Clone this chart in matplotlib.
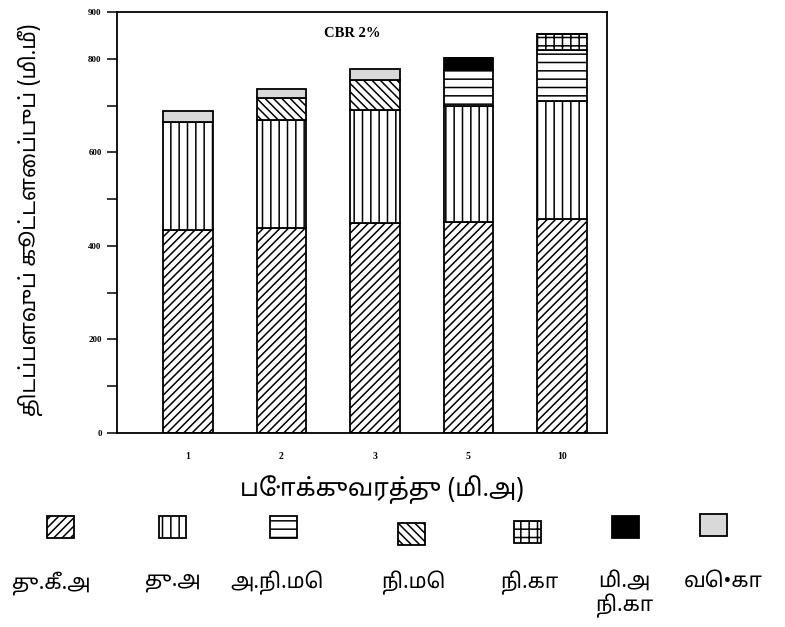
import matplotlib
matplotlib.use("Agg")
import matplotlib.pyplot as plt
import numpy as np
from matplotlib.patches import Rectangle

# Traffic levels (million standard axles) and layer thicknesses (mm)
traffic = ["1", "2", "3", "5", "10"]

layer_names = ["து.கீ.அ", "து.அ", "அ.நி.மெ", "நி.மெ", "நி.கா", "மி.அ\nநி.கா", "வெ•கா"]
subbase      = [434, 439, 449, 450, 457]   # து.கீ.அ
base         = [231, 231, 242, 249, 252]   # து.அ
dbm          = [0, 0, 0, 76, 110]          # அ.நி.மெ
bm           = [0, 46, 64, 0, 0]           # நி.மெ
bc           = [0, 0, 0, 0, 34]            # நி.கா
sdbc         = [0, 0, 0, 26, 0]            # மி.அ நி.கா
premix       = [24, 20, 23, 0, 0]          # வெ•கா

layers = [subbase, base, dbm, bm, bc, sdbc, premix]
hatches = ["////", "||", "--", "\\\\\\\\", "++", None, None]
faces = ["white", "white", "white", "white", "white", "black", "#d9d9d9"]

yticks = [0, 200, 400, 600, 800, 900]

tamil = ["Noto Sans Tamil", "Lohit Tamil", "Noto Sans", "DejaVu Sans"]

plt.rcParams["hatch.linewidth"] = 1.1
plt.rcParams["hatch.color"] = "black"

fig = plt.figure(figsize=(7.85, 6.27), dpi=100)
ax = fig.add_axes([0.149, 0.3094, 0.624, 0.6715])

x = np.arange(len(traffic))
bottom = np.zeros(len(traffic))
for vals, h, fc in zip(layers, hatches, faces):
    v = np.array(vals, dtype=float)
    ax.bar(x, v, width=0.53, bottom=bottom, color=fc, edgecolor="black",
           hatch=h, linewidth=1.3)
    bottom += v

ax.set_xlim(-0.76, 4.48)
ax.set_ylim(0, 900)
ax.set_xticks(x)
ax.set_xticklabels(traffic, fontfamily="Liberation Serif", fontweight="bold",
                   fontsize=7)
ax.tick_params(axis="x", length=0, pad=14)
ax.set_yticks(np.arange(0, 901, 100))
ax.set_yticklabels([str(t) if t in yticks else "" for t in range(0, 901, 100)],
                   fontfamily="Liberation Serif", fontweight="bold", fontsize=6.5)
ax.tick_params(axis="y", length=7, width=1.1, pad=4, direction="out")
for s in ax.spines.values():
    s.set_linewidth(1.3)

ax.text(0.48, 0.95, "CBR 2%", transform=ax.transAxes, ha="center", va="center",
        fontfamily="Liberation Serif", fontweight="bold", fontsize=10.5)

fig.text(382 / 785, 1 - 490 / 627, "போக்குவரத்து (மி.அ)", ha="center", va="center",
         fontsize=17.5, fontweight="bold", family=tamil)
fig.text(30 / 785, 1 - 220 / 627, "திடப்பளவுப் கூட்டளைப்புப் (மி.மீ)", ha="center",
         va="center", rotation=90, fontsize=15.5, fontweight="bold", family=tamil)

# Legend: swatches in one row with names below
sw_x = [60, 172, 283, 411, 527, 625, 713]
sw_y = [527, 527, 527, 534, 532, 527, 525]
lab_x = [51, 172, 277, 413, 529, 624, 723]
W, H = 27 / 785, 22 / 627
for i in range(len(layer_names)):
    cx, cy = sw_x[i] / 785, 1 - sw_y[i] / 627
    r = Rectangle((cx - W / 2, cy - H / 2), W, H, transform=fig.transFigure,
                  facecolor=faces[i], edgecolor="black", hatch=hatches[i],
                  linewidth=1.3)
    fig.add_artist(r)
    fig.text(lab_x[i] / 785, 1 - 571 / 627, layer_names[i], ha="center", va="top",
             fontsize=15, family=tamil, linespacing=1.1)

fig.savefig("out.png", dpi=100)
